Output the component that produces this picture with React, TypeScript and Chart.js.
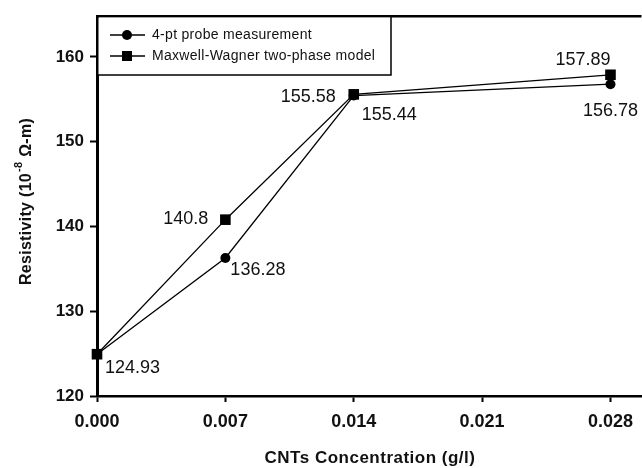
import React, { useEffect, useRef } from "react";
import { Chart, registerables } from "chart.js";

Chart.register(...registerables);

// ---- data ----
const concentrations = [0, 0.007, 0.014, 0.028];
const probeValues = [124.93, 136.28, 155.44, 156.78];
const modelValues = [124.93, 140.8, 155.58, 157.89];
const xTicks = [0, 0.007, 0.014, 0.021, 0.028];
const yTicks = [120, 130, 140, 150, 160];
const seriesNames = ["4-pt probe measurement", "Maxwell-Wagner two-phase model"];
const xTitle = "CNTs Concentration (g/l)";
const yTitleMain = "Resistivity (10";
const yTitleSup = "-8";
const yTitleEnd = " Ω-m)";

// label placement per point: [dx, dy, align] (null = no label)
const probeLabelPos: any[] = [[8, 14, "left"], [5, 12, "left"], [8, 19, "left"], [0, 27, "center"]];
const modelLabelPos: any[] = [null, [-17, -1, "right"], [-18, 3, "right"], [0, -15, "right"]];

const FONT = '"Liberation Sans", Arial, Helvetica, sans-serif';

const decorPlugin = {
  id: "decor",
  afterDatasetsDraw(chart: any) {
    const ctx = chart.ctx;
    const area = chart.chartArea;
    const xs = chart.scales.x;
    const ys = chart.scales.y;
    ctx.save();
    // top border
    ctx.strokeStyle = "#000";
    ctx.lineWidth = 2.5;
    ctx.beginPath();
    ctx.moveTo(area.left, area.top);
    ctx.lineTo(area.right, area.top);
    ctx.stroke();

    // data labels
    ctx.fillStyle = "#111";
    ctx.font = `18px ${FONT}`;
    ctx.textBaseline = "middle";
    const drawLabels = (vals: number[], pos: any[]) => {
      vals.forEach((v, i) => {
        const p = pos[i];
        if (!p) return;
        const px = xs.getPixelForValue(concentrations[i]);
        const py = ys.getPixelForValue(v);
        ctx.textAlign = p[2];
        ctx.fillText(String(v), px + p[0], py + p[1]);
      });
    };
    drawLabels(probeValues, probeLabelPos);
    drawLabels(modelValues, modelLabelPos);

    // legend box
    const lx0 = area.left;
    const ly0 = area.top;
    const lx1 = 391;
    const ly1 = 75;
    ctx.fillStyle = "#fff";
    ctx.fillRect(lx0 + 1.5, ly0 + 1.5, lx1 - lx0 - 1.5, ly1 - ly0 - 1.5);
    ctx.strokeStyle = "#000";
    ctx.lineWidth = 1.5;
    ctx.beginPath();
    ctx.moveTo(lx0, ly1);
    ctx.lineTo(lx1, ly1);
    ctx.lineTo(lx1, ly0);
    ctx.stroke();
    const rows = [35, 56];
    rows.forEach((ry, i) => {
      ctx.strokeStyle = "#000";
      ctx.lineWidth = 1.5;
      ctx.beginPath();
      ctx.moveTo(110, ry);
      ctx.lineTo(145, ry);
      ctx.stroke();
      ctx.fillStyle = "#000";
      if (i === 0) {
        ctx.beginPath();
        ctx.arc(127, ry, 5, 0, Math.PI * 2);
        ctx.fill();
      } else {
        ctx.fillRect(122, ry - 5, 10, 10);
      }
      ctx.fillStyle = "#111";
      ctx.font = `14px ${FONT}`;
      (ctx as any).letterSpacing = "0.3px";
      ctx.textAlign = "left";
      ctx.textBaseline = "middle";
      ctx.fillText(seriesNames[i], 152, ry);
      (ctx as any).letterSpacing = "0px";
    });

    // x title
    ctx.fillStyle = "#111";
    ctx.font = `bold 17px ${FONT}`;
    (ctx as any).letterSpacing = "0.5px";
    ctx.textAlign = "center";
    ctx.textBaseline = "middle";
    ctx.fillText(xTitle, 370, 458);

    // y title (rotated, with superscript)
    (ctx as any).letterSpacing = "0.3px";
    ctx.translate(27, 0);
    ctx.rotate(-Math.PI / 2);
    const mainFont = `bold 16px ${FONT}`;
    const supFont = `bold 11px ${FONT}`;
    ctx.font = mainFont;
    const w1 = ctx.measureText(yTitleMain).width;
    const w3 = ctx.measureText(yTitleEnd).width;
    ctx.font = supFont;
    const w2 = ctx.measureText(yTitleSup).width;
    const total = w1 + w2 + w3;
    const centerY = 202;
    const start = -centerY - total / 2;
    ctx.textAlign = "left";
    ctx.textBaseline = "middle";
    ctx.font = mainFont;
    ctx.fillText(yTitleMain, start, 0);
    ctx.font = supFont;
    ctx.fillText(yTitleSup, start + w1 + 1, -8);
    ctx.font = mainFont;
    ctx.fillText(yTitleEnd, start + w1 + w2 + 1, 0);
    (ctx as any).letterSpacing = "0px";
    ctx.restore();
  },
};

export default function App() {
  const ref = useRef<HTMLCanvasElement | null>(null);
  useEffect(() => {
    if (!ref.current) return;
    const chart = new Chart(ref.current, {
      type: "line",
      data: {
        datasets: [
          {
            label: seriesNames[0],
            data: concentrations.map((c, i) => ({ x: c, y: probeValues[i] })),
            borderColor: "#000",
            backgroundColor: "#000",
            borderWidth: 1.3,
            pointStyle: "circle",
            pointRadius: 5,
            pointBorderWidth: 0,
            clip: false as any,
            order: 2,
          },
          {
            label: seriesNames[1],
            data: concentrations.map((c, i) => ({ x: c, y: modelValues[i] })),
            borderColor: "#000",
            backgroundColor: "#000",
            borderWidth: 1.3,
            pointStyle: "rect",
            pointRadius: 7.5,
            pointBorderWidth: 0,
            clip: false as any,
            order: 1,
          },
        ],
      },
      options: {
        animation: false,
        responsive: false,
        maintainAspectRatio: false,
        layout: { padding: { top: 13, left: 0, right: 0, bottom: 0 }, autoPadding: false } as any,
        plugins: { legend: { display: false }, tooltip: { enabled: false }, title: { display: false } },
        scales: {
          x: {
            type: "linear",
            min: 0,
            max: 0.02969,
            afterBuildTicks: (s: any) => {
              s.ticks = xTicks.map((v) => ({ value: v }));
            },
            afterFit: (s: any) => {
              s.height = 72;
            },
            ticks: {
              color: "#111",
              font: { family: FONT, size: 18, weight: "bold" },
              padding: 9,
              maxRotation: 0,
              callback: (v: any) => Number(v).toFixed(3),
            },
            grid: { display: true, drawOnChartArea: false, drawTicks: true, tickLength: 6, tickWidth: 2, tickColor: "#000", color: "#000" },
            border: { display: true, color: "#000", width: 2.5 },
          },
          y: {
            type: "linear",
            min: 120,
            max: 164.8,
            afterBuildTicks: (s: any) => {
              s.ticks = yTicks.map((v) => ({ value: v }));
            },
            afterFit: (s: any) => {
              s.width = 97;
            },
            ticks: {
              color: "#111",
              font: { family: FONT, size: 17, weight: "bold" },
              padding: 6,
            },
            grid: { display: true, drawOnChartArea: false, drawTicks: true, tickLength: 7, tickWidth: 2, tickColor: "#000", color: "#000" },
            border: { display: true, color: "#000", width: 3 },
          },
        },
      },
      plugins: [decorPlugin],
    } as any);
    return () => chart.destroy();
  }, []);
  return (
    <div style={{ position: "absolute", left: 0, top: 0, width: 642, height: 468, background: "#fff" }}>
      <canvas ref={ref} width={642} height={468} style={{ display: "block" }} />
    </div>
  );
}
